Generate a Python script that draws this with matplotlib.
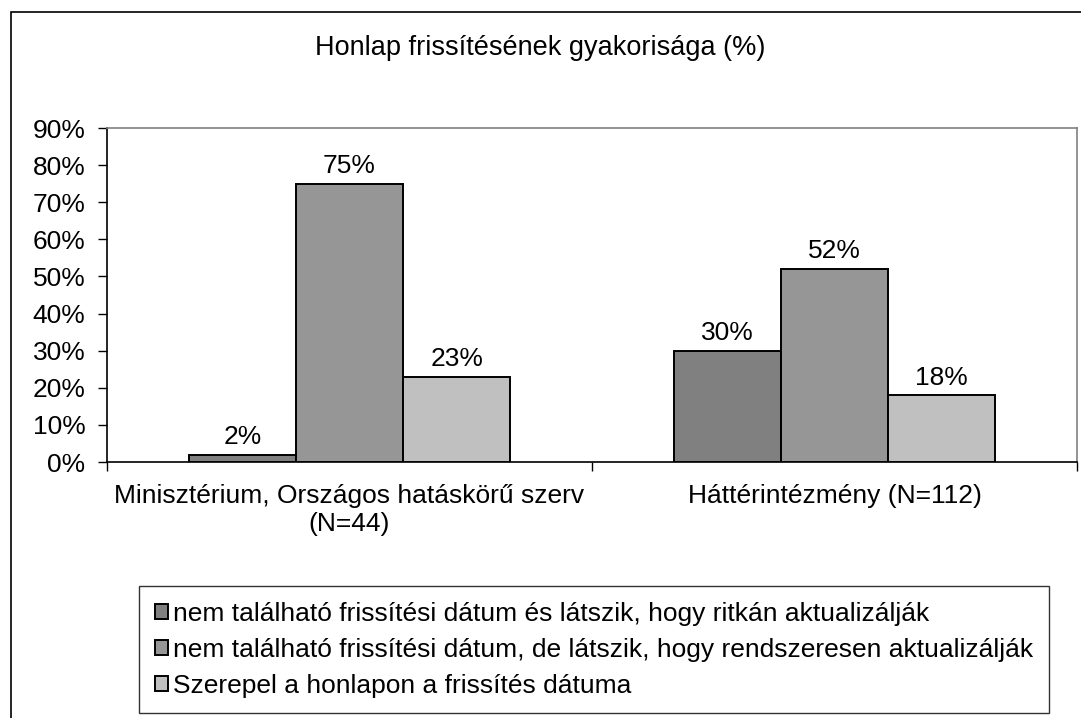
import numpy as np
import matplotlib.pyplot as plt
from matplotlib.patches import Rectangle

plt.rcParams['font.family'] = ['Liberation Sans', 'DejaVu Sans']

# adatok
title = "Honlap frissítésének gyakorisága (%)"
categories = ["Minisztérium, Országos hatáskörű szerv\n(N=44)", "Háttérintézmény (N=112)"]
series_names = [
    "nem található frissítési dátum és látszik, hogy ritkán aktualizálják",
    "nem található frissítési dátum, de látszik, hogy rendszeresen aktualizálják",
    "Szerepel a honlapon a frissítés dátuma",
]
values = [
    [2, 30],
    [75, 52],
    [23, 18],
]
colors = ['#808080', '#969696', '#c0c0c0']
y_ticks = [0, 10, 20, 30, 40, 50, 60, 70, 80, 90]

W, H = 1081, 718
fig = plt.figure(figsize=(W / 100, H / 100), dpi=100)
fs = 19

ax = fig.add_axes([107 / W, 1 - 462 / H, (1077 - 107) / W, (462 - 128) / H])

x = np.arange(len(categories)) + 0.5
width = 0.221
for i, (vals, col, name) in enumerate(zip(values, colors, series_names)):
    pos = x + (i - 1) * width
    bars = ax.bar(pos, vals, width, color=col, edgecolor='black', linewidth=1.4, label=name, zorder=3)
    for b, v in zip(bars, vals):
        ax.annotate(f"{v}%", (b.get_x() + b.get_width() / 2, v), xytext=(0, 4),
                    textcoords='offset points', ha='center', va='bottom', fontsize=fs)

ax.set_xlim(0, len(categories))
ax.set_ylim(0, 90)
ax.set_yticks(y_ticks)
ax.set_yticklabels([f"{t}%" for t in y_ticks], fontsize=fs)
ax.set_xticks(np.arange(len(categories) + 1))
ax.set_xticklabels([])
ax.set_xticks(x, minor=True)
ax.set_xticklabels(categories, minor=True, fontsize=fs)
ax.tick_params(axis='x', which='minor', length=0, pad=16)
ax.tick_params(axis='both', which='major', direction='out', length=6.5, width=1, color='black')
ax.tick_params(axis='y', pad=9)
for t in ax.get_xticklabels(minor=True):
    t.set_multialignment('center')
    t.set_linespacing(1.2)

ax.spines['left'].set_color('black')
ax.spines['bottom'].set_color('black')
ax.spines['top'].set_color('#808080')
ax.spines['right'].set_color('#808080')
for s in ax.spines.values():
    s.set_linewidth(1.2)

fig.text(540 / W, 1 - 48 / H, title, ha='center', va='center', fontsize=19.5)

# külső keret (jobb és alsó széle kilóg)
fig.patches.append(Rectangle((11 / W, -0.1), 1.2, 1 - 12 / H + 0.1, transform=fig.transFigure,
                             fill=False, edgecolor='black', linewidth=1.2))

leg = fig.legend(loc='upper left', bbox_to_anchor=(139 / W, 1 - 586 / H), fontsize=fs,
                 handlelength=0.5, handleheight=0.5, handletextpad=0.2,
                 labelspacing=0.45, borderpad=0.6, borderaxespad=0, fancybox=False)
leg.get_frame().set_edgecolor('black')
leg.get_frame().set_linewidth(1.0)

plt.savefig('out.png', dpi=100)
